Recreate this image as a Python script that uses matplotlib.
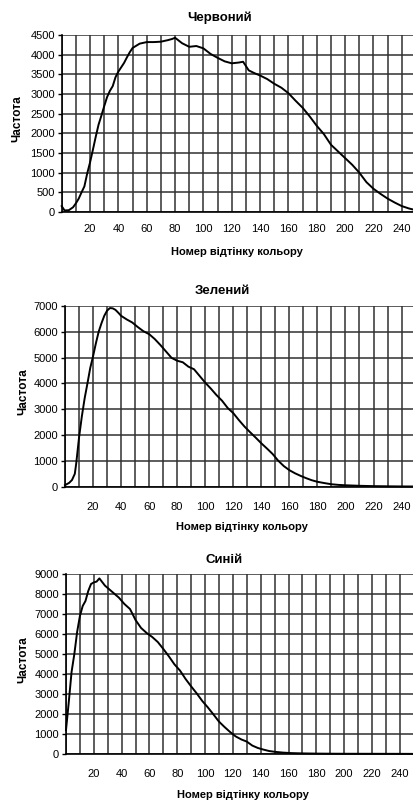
import matplotlib
matplotlib.use('Agg')
import matplotlib.pyplot as plt
from matplotlib.ticker import MultipleLocator

plt.rcParams['font.family'] = ['Liberation Sans Narrow', 'Liberation Sans', 'DejaVu Sans']

# ---- data ----
red_levels = [0, 2, 5, 8, 10, 12, 14, 16, 18, 20, 22, 24, 26, 28, 30, 32, 34, 36, 38, 40,
              42, 44, 46, 48, 50, 55, 60, 65, 70, 75, 78, 80, 85, 90, 95, 100, 105, 110,
              115, 120, 125, 128, 132, 136, 140, 145, 150, 155, 160, 165, 170, 175, 180,
              185, 190, 195, 200, 205, 210, 215, 220, 225, 230, 235, 240, 245, 250, 255]
red_counts = [150, 40, 45, 120, 220, 340, 500, 650, 980, 1260, 1580, 1910, 2220, 2450, 2690,
              2920, 3080, 3200, 3430, 3570, 3680, 3790, 3930, 4060, 4170, 4280, 4320, 4320,
              4330, 4370, 4400, 4430, 4290, 4200, 4220, 4160, 4020, 3920, 3830, 3780, 3800,
              3820, 3600, 3530, 3470, 3380, 3260, 3160, 3020, 2830, 2650, 2430, 2190, 1980,
              1710, 1540, 1370, 1200, 1000, 760, 590, 460, 340, 240, 150, 90, 45, 20]

green_levels = [0, 3, 5, 7, 8, 10, 12, 14, 16, 18, 20, 22, 24, 26, 28, 30, 32, 34, 36, 38,
                40, 44, 48, 52, 56, 60, 64, 68, 72, 76, 80, 84, 88, 92, 96, 100, 104, 108,
                112, 116, 120, 124, 128, 132, 136, 140, 144, 148, 152, 156, 160, 164, 168,
                172, 176, 180, 185, 190, 195, 200, 210, 220, 230, 240, 250, 255]
green_counts = [60, 150, 260, 500, 900, 1900, 2720, 3420, 4000, 4600, 5050, 5550, 6000, 6330,
                6620, 6820, 6920, 6910, 6850, 6740, 6620, 6480, 6360, 6180, 6020, 5910, 5720,
                5490, 5240, 4990, 4880, 4820, 4650, 4550, 4290, 4030, 3800, 3550, 3330, 3050,
                2850, 2580, 2330, 2110, 1900, 1680, 1480, 1270, 1010, 800, 640, 520, 420, 330,
                250, 190, 140, 95, 70, 55, 35, 22, 15, 10, 8, 5]

blue_levels = [0, 2, 4, 6, 8, 10, 12, 14, 16, 18, 20, 22, 24, 26, 28, 30, 34, 38, 42, 46,
               48, 50, 54, 58, 62, 66, 70, 74, 78, 82, 86, 90, 94, 98, 102, 106, 110, 114,
               118, 122, 126, 130, 134, 138, 142, 146, 150, 156, 162, 170, 180, 190, 200,
               220, 240, 255]
blue_counts = [1200, 2600, 4100, 5000, 6100, 6900, 7400, 7650, 8150, 8500, 8580, 8620, 8780,
               8600, 8420, 8300, 8060, 7820, 7500, 7250, 6980, 6700, 6300, 6050, 5850, 5600,
               5250, 4880, 4480, 4170, 3750, 3380, 3030, 2650, 2330, 1980, 1620, 1350, 1100,
               880, 730, 620, 420, 300, 220, 150, 110, 70, 45, 30, 20, 15, 12, 10, 8, 5]

titles = ['Червоний', 'Зелений', 'Синій']
y_label = 'Частота'
x_label = 'Номер відтінку кольору'
x_tick_values = [20, 40, 60, 80, 100, 120, 140, 160, 180, 200, 220, 240]
y_maxima = [4500, 7000, 9000]
y_steps = [500, 1000, 1000]

series = [(red_levels, red_counts), (green_levels, green_counts), (blue_levels, blue_counts)]

# ---- layout (pixels) ----
W, H = 414, 807
boxes = [(61.7, 35, 424.5, 212), (65, 306, 424, 486.7), (66, 574, 422, 754)]
title_pos = [(220, 18), (222, 291), (224, 560)]
xlabel_pos = [(237, 252), (242, 527), (243, 795)]
ylabel_pos = [(17.5, 119), (23, 392), (23, 660)]
xtick_pads = [8.5, 11, 10.5]

fig = plt.figure(figsize=(W / 100, H / 100), dpi=100)
fig.patch.set_facecolor('white')
grid_color = '#303030'

for i, ((lv, ct), (l, t, r, b)) in enumerate(zip(series, boxes)):
    ax = fig.add_axes([l / W, 1 - b / H, (r - l) / W, (b - t) / H])
    ax.set_xlim(0, 256)
    ax.set_ylim(0, y_maxima[i])
    ax.set_xticks(x_tick_values)
    ax.set_xticklabels([str(v) for v in x_tick_values])
    ax.xaxis.set_minor_locator(MultipleLocator(10))
    yt = list(range(0, y_maxima[i] + 1, y_steps[i]))
    ax.set_yticks(yt)
    ax.set_yticklabels([str(v) for v in yt])
    ax.grid(True, axis='x', which='both', color=grid_color, lw=1.1)
    ax.grid(True, axis='y', which='major', color=grid_color, lw=1.1)
    ax.set_axisbelow(True)
    for s in ['top', 'right']:
        ax.spines[s].set_visible(False)
    for s in ['left', 'bottom']:
        ax.spines[s].set_color('black')
        ax.spines[s].set_linewidth(1.2)
    ax.tick_params(axis='x', which='both', length=0, pad=xtick_pads[i], labelsize=8)
    ax.tick_params(axis='y', length=3, width=1, pad=2, labelsize=8)
    ax.plot(lv, ct, color='black', lw=1.4, clip_on=False)
    fig.text(title_pos[i][0] / W, 1 - title_pos[i][1] / H, titles[i], ha='center', va='center',
             fontsize=9.5, fontweight='bold')
    fig.text(xlabel_pos[i][0] / W, 1 - xlabel_pos[i][1] / H, x_label, ha='center', va='center',
             fontsize=8, fontweight='bold')
    fig.text(ylabel_pos[i][0] / W, 1 - ylabel_pos[i][1] / H, y_label, ha='center', va='center',
             fontsize=8.5, fontweight='bold', rotation=90)

fig.savefig('out.png', dpi=100)
